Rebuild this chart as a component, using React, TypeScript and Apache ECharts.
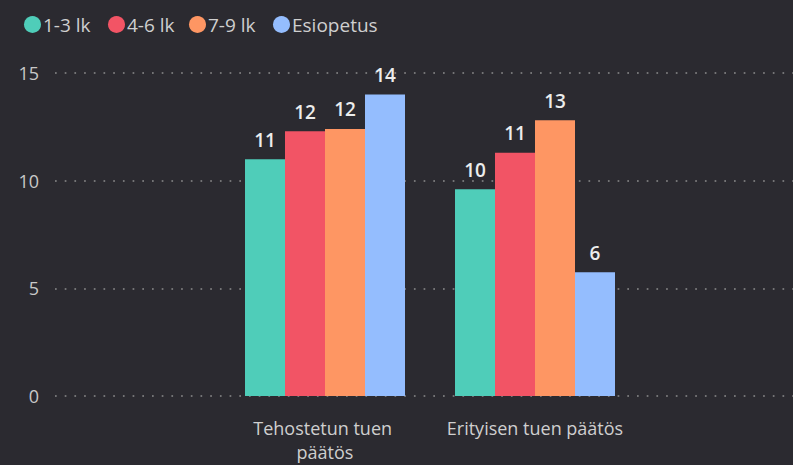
import React, { useEffect, useRef } from "react";
import * as echarts from "echarts";

const categories = ["Tehostetun tuen päätös", "Erityisen tuen päätös"];
const seriesNames = ["1-3 lk", "4-6 lk", "7-9 lk", "Esiopetus"];
const values1to3 = [11.0, 9.6];
const values4to6 = [12.3, 11.3];
const values7to9 = [12.4, 12.8];
const valuesEsiopetus = [14.0, 5.75];
const colors = ["#4fcdb9", "#f25465", "#fe9663", "#94bdfe"];
const yTicks = { min: 0, max: 15, interval: 5 };

const FONT = "'Open Sans', 'Noto Sans', sans-serif";
const legendLefts = [19, 103, 184, 268];

export default function App() {
  const ref = useRef<HTMLDivElement>(null);
  useEffect(() => {
    if (!ref.current) return;
    const chart = echarts.init(ref.current, null, { renderer: "svg" });
    const data = [values1to3, values4to6, values7to9, valuesEsiopetus];
    chart.setOption({
      animation: false,
      backgroundColor: "#2b2a30",
      textStyle: { fontFamily: FONT },
      legend: seriesNames.map((name, i) => ({
        left: legendLefts[i],
        top: 10,
        icon: "circle",
        itemWidth: 17,
        itemHeight: 17,
        textStyle: { color: "#cfcfcf", fontSize: 19, fontFamily: FONT, padding: [0, 0, 0, -3] },
        data: [name],
      })),
      grid: [
        { left: 55, right: 0, top: 73, bottom: 69 },
        { left: 220, right: 153, top: 73, bottom: 69 },
      ],
      xAxis: [
        { type: "category", gridIndex: 0, data: ["a"], show: false },
        {
          type: "category",
          gridIndex: 1,
          data: categories,
          axisLine: { show: false },
          axisTick: { show: false },
          axisLabel: {
            interval: 0,
            color: "#cfcfcf",
            fontSize: 18,
            fontFamily: FONT,
            margin: 20,
            width: 210,
            overflow: "break",
            lineHeight: 24,
            hideOverlap: false,
          },
        },
      ],
      yAxis: [
        {
          type: "value",
          gridIndex: 0,
          min: yTicks.min,
          max: yTicks.max,
          interval: yTicks.interval,
          axisLine: { show: false },
          axisTick: { show: false },
          axisLabel: { color: "#c8c8c8", fontSize: 18, fontFamily: FONT, margin: 16 },
          splitLine: {
            lineStyle: { color: "#8c8c8c", width: 1.7, type: [1.7, 8] },
          },
        },
        {
          type: "value",
          gridIndex: 1,
          min: yTicks.min,
          max: yTicks.max,
          interval: yTicks.interval,
          show: false,
          splitLine: { show: false },
        },
      ],
      series: seriesNames.map((name, i) => ({
        name,
        type: "bar",
        xAxisIndex: 1,
        yAxisIndex: 1,
        data: data[i],
        barWidth: 40,
        barGap: "0%",
        itemStyle: { color: colors[i] },
        label: {
          show: true,
          position: "top",
          distance: 10,
          color: "#ececec",
          fontSize: 19,
          fontWeight: 600,
          fontFamily: FONT,
          formatter: (p: any) => String(Math.round(p.value)),
        },
      })),
    });
    return () => chart.dispose();
  }, []);
  return (
    <div
      ref={ref}
      style={{ position: "fixed", left: 0, top: 0, width: 793, height: 465 }}
    />
  );
}
